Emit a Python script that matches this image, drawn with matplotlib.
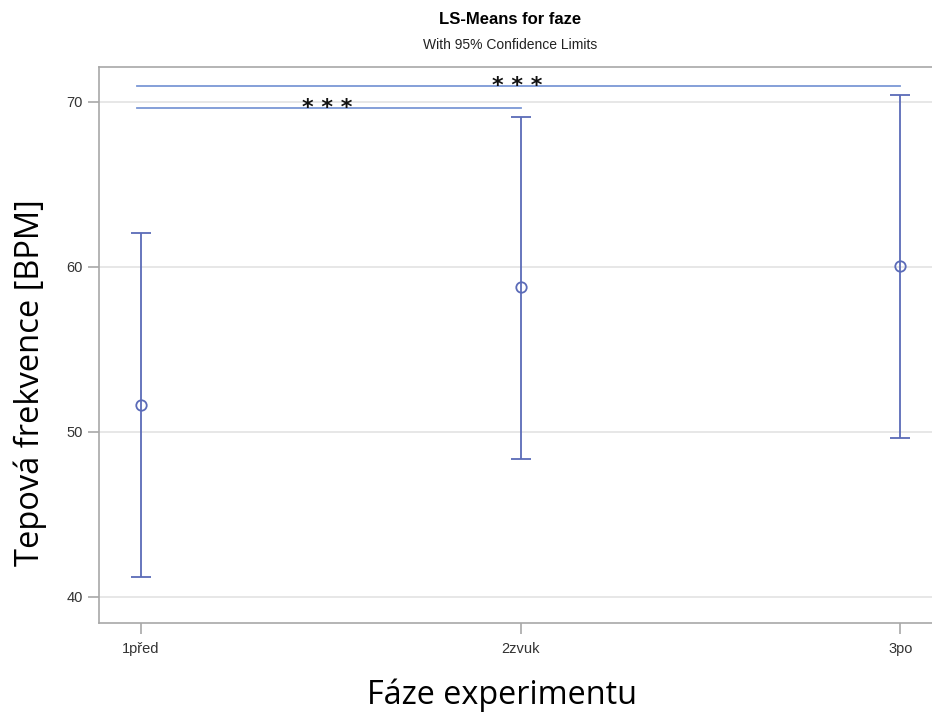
import matplotlib.pyplot as plt
import numpy as np

# DATA
phases = ["1před", "2zvuk", "3po"]
means = [51.64, 58.79, 60.06]
lower = [41.21, 48.36, 49.64]
upper = [62.06, 69.09, 70.42]

# significance brackets: (from index, to index, y level, label)
sig_from = [0, 0]
sig_to = [1, 2]
sig_y = [69.64, 70.97]
sig_label = ["* * *", "* * *"]

plt.rcParams["font.family"] = ["Liberation Sans", "DejaVu Sans"]

fig = plt.figure(figsize=(9.32, 7.13), dpi=100)
# axes run a bit off the right edge, like the cropped original
ax = fig.add_axes([99 / 932, 1 - 623 / 713, 843 / 932, 556 / 713])

x = np.arange(len(phases))
m = np.array(means)
err = [m - np.array(lower), np.array(upper) - m]

bar_col = "#5b6bb8"
ax.errorbar(x, m, yerr=err, fmt="o", mfc="none", mec=bar_col, ecolor=bar_col,
            ms=7.5, mew=1.3, elinewidth=1.3, capsize=7, capthick=1.3, zorder=3)

# SIGNIFICANCE LINES
for a, b, y, lab in zip(sig_from, sig_to, sig_y, sig_label):
    ax.plot([x[a] - 0.01, x[b]], [y, y], color="#7b97d6", lw=1.3, zorder=2)
    ax.text((x[a] + x[b]) / 2 - 0.009, y - 0.36, lab, ha="center", va="baseline",
            fontsize=16, fontweight="bold", family="DejaVu Sans",
            color="#111111")

ax.set_xlim(-0.11, 2.11)
ax.set_ylim(38.42, 72.12)
ax.set_xticks(x)
ax.set_xticklabels(phases)
ax.set_yticks([40, 50, 60, 70])
ax.grid(axis="y", color="#e3e3e3", lw=1.2, zorder=0)
ax.set_axisbelow(True)

for s in ax.spines.values():
    s.set_color("#a8a8a8")
    s.set_linewidth(1.2)
ax.tick_params(colors="#a8a8a8", labelcolor="#333333", labelsize=10.5,
               length=8, width=1.2)
ax.tick_params(axis="x", pad=6)

ax.set_ylabel("Tepová frekvence [BPM]", fontsize=23.5, family="Open Sans",
              va="center")
ax.yaxis.set_label_coords(-0.082, 0.433)
ax.set_xlabel("Fáze experimentu", fontsize=23.3, family="Open Sans",
              va="center")
ax.xaxis.set_label_coords(0.478, -0.13)

fig.text(510 / 932, 1 - 20 / 713, "LS-Means for faze", ha="center",
         va="center", fontsize=12, fontweight="bold")
fig.text(510 / 932, 1 - 45 / 713, "With 95% Confidence Limits", ha="center",
         va="center", fontsize=10, color="#222222")

plt.savefig("out.png", dpi=100)
